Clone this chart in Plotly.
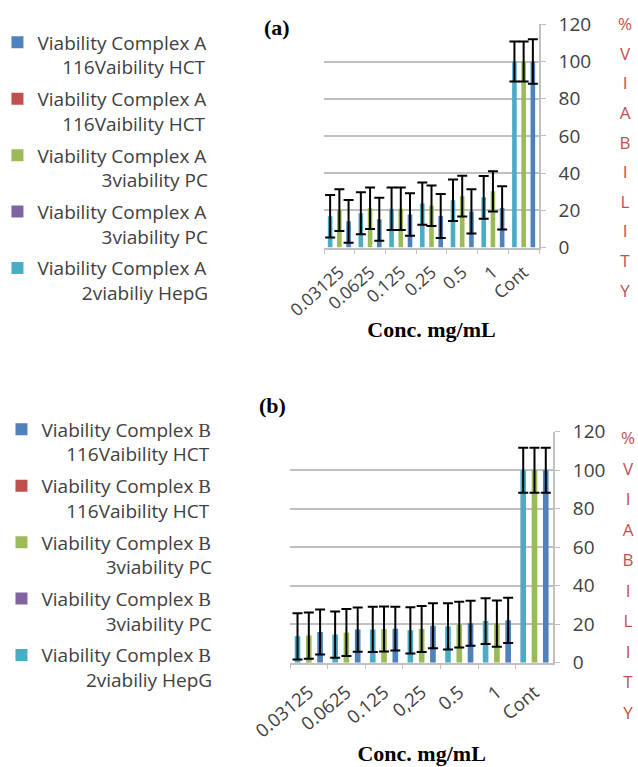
import plotly.graph_objects as go

# ---------------- data ----------------
conc_a = ["0.03125", "0.0625", "0.125", "0.25", "0.5", "1", "Cont"]
conc_b = ["0.03125", "0.0625", "0.125", "0,25", "0.5", "1", "Cont"]

# panel (a) – Complex A
a_hct = [14.1, 15.2, 17.7, 16.9, 19.4, 21.3, 100]
a_hct_err = [11.5, 11.6, 11.4, 11.8, 11.9, 11.6, 12.0]
a_pc = [20.1, 21.1, 20.8, 22.5, 27.6, 30.2, 100]
a_pc_err = [11.2, 11.2, 11.4, 10.9, 11.0, 10.8, 10.8]
a_hepg = [16.8, 18.4, 20.8, 23.6, 25.4, 27.0, 100]
a_hepg_err = [11.4, 11.3, 11.4, 11.4, 11.2, 11.5, 10.8]
a_hct_2 = [None, None, None, None, None, None, None]
a_pc_2 = [None, None, None, None, None, None, None]

# panel (b) – Complex B
b_hct = [16.0, 17.2, 17.7, 19.2, 20.5, 22.0, 100]
b_hct_err = [11.7, 11.5, 11.4, 11.7, 11.7, 11.8, 11.7]
b_pc = [14.1, 15.7, 17.5, 17.5, 19.8, 20.3, 100]
b_pc_err = [12.0, 12.2, 11.7, 11.9, 11.9, 12.0, 11.7]
b_hepg = [13.7, 14.6, 17.3, 16.8, 18.9, 21.6, 100]
b_hepg_err = [12.0, 12.0, 11.8, 12.0, 12.0, 11.9, 11.7]
b_hct_2 = [None, None, None, None, None, None, None]
b_pc_2 = [None, None, None, None, None, None, None]

line2_hct = "116Vaibility HCT"
line2_pc = "3viability PC"
line2_hepg = "2viabiliy HepG"

# ---------------- styling ----------------
BLUE, RED, GREEN, PURPLE, CYAN = "#4f81bd", "#c0504d", "#9bbb59", "#8064a2", "#4bacc6"
GRID = "#c0c0c0"
TXT = "#404040"
NB = "\u00a0"
H = 767.0
W = 638.0


def label(cpx, line2, pad):
    return f"Viability Complex {cpx}<br>{NB * pad}{line2}"


fig = go.Figure()


def add_panel(cats, suffix, legend_id, cpx, hct, hct_e, hct2, pc, pc_e, pc2, hepg, hepg_e):
    xa = "x" if suffix == "" else "x" + suffix
    ya = "y" if suffix == "" else "y" + suffix
    # slot order inside each category (left to right): cyan, purple, green, red, blue
    # legend order (top to bottom): blue, red, green, purple, cyan
    specs = [
        (hepg, hepg_e, CYAN, label(cpx, line2_hepg, 9), 5),
        (pc2, None, PURPLE, label(cpx, line2_pc, 13), 4),
        (pc, pc_e, GREEN, label(cpx, line2_pc, 13), 3),
        (hct2, None, RED, label(cpx, line2_hct, 5), 2),
        (hct, hct_e, BLUE, label(cpx, line2_hct, 5), 1),
    ]
    for i, (vals, errs, col, name, rank) in enumerate(specs):
        tr = dict(
            x=cats, y=vals, name=name, marker=dict(color=col, line=dict(width=0)),
            xaxis=xa, yaxis=ya, legend=legend_id, legendgroup=f"{legend_id}_{i}",
            legendrank=rank, offsetgroup=str(i),
        )
        if errs is not None:
            tr["error_y"] = dict(type="data", array=errs, color="black", thickness=2, width=5)
        fig.add_trace(go.Bar(**tr))


add_panel(conc_a, "", "legend", "A", a_hct, a_hct_err, a_hct_2, a_pc, a_pc_err, a_pc_2,
          a_hepg, a_hepg_err)
add_panel(conc_b, "2", "legend2", "<span style='font-family:Liberation Serif'>B</span>",
          b_hct, b_hct_err, b_hct_2, b_pc, b_pc_err, b_pc_2, b_hepg, b_hepg_err)


def xaxis_style(fsize, angle, lab_standoff, title_standoff):
    return dict(type="category", tickson="boundaries", ticks="outside", ticklen=5,
                tickcolor=GRID, showline=True, linecolor=GRID, linewidth=1.5, showgrid=False,
                tickangle=angle, ticklabelstandoff=lab_standoff,
                tickfont=dict(family="Open Sans", size=fsize, color=TXT),
                title=dict(text="<b>Conc. mg/mL</b>", standoff=title_standoff,
                           font=dict(family="Liberation Serif", size=22, color="black")))


ycommon = dict(side="right", range=[0, 120], dtick=20, tick0=0, showline=True,
               linecolor=GRID, linewidth=1.5, ticks="outside", ticklen=5, tickcolor=GRID,
               gridcolor=GRID, gridwidth=1.5, zeroline=False, ticklabelstandoff=9,
               tickfont=dict(family="Open Sans", size=19, color=TXT))

legcommon = dict(xanchor="left", yanchor="top", traceorder="grouped",
                 tracegroupgap=4, valign="top", bgcolor="rgba(0,0,0,0)",
                 font=dict(family="Open Sans", size=19, color=TXT))


def letters():
    return "<br>".join(f"<span style='font-size:17px'>{c}</span>" for c in "%VIABILITY")


fig.update_layout(
    width=638, height=767, margin=dict(l=0, r=0, t=0, b=0, autoexpand=False),
    paper_bgcolor="white", plot_bgcolor="white",
    barmode="group", bargap=0.25, bargroupgap=0,
    xaxis=dict(domain=[324 / W, 539 / W], anchor="y", **xaxis_style(17.5, -42, 6, 2)),
    yaxis=dict(domain=[1 - 247.5 / H, 1 - 24.3 / H], anchor="x", **ycommon),
    xaxis2=dict(domain=[290 / W, 553.3 / W], anchor="y2", **xaxis_style(18.5, -40, 10, 4)),
    yaxis2=dict(domain=[1 - 662.7 / H, 1 - 431.7 / H], anchor="x2", **ycommon),
    legend=dict(x=-0.004, y=1 - 23.5 / H, **legcommon),
    legend2=dict(x=0.0023, y=1 - 410.5 / H, **legcommon),
    annotations=[
        dict(text="<b>(a)</b>", x=277 / W, y=1 - 28 / H, xref="paper", yref="paper",
             xanchor="center", yanchor="middle", showarrow=False,
             font=dict(family="Liberation Serif", size=22, color="black")),
        dict(text="<b>(b)</b>", x=272 / W, y=1 - 406 / H, xref="paper", yref="paper",
             xanchor="center", yanchor="middle", showarrow=False,
             font=dict(family="Liberation Serif", size=22, color="black")),
        dict(text=letters(), x=625 / W, y=1 - 157 / H, xref="paper", yref="paper",
             xanchor="center", yanchor="middle", showarrow=False,
             font=dict(family="Open Sans", size=22.8, color=RED)),
        dict(text=letters(), x=628 / W, y=1 - 574.5 / H, xref="paper", yref="paper",
             xanchor="center", yanchor="middle", showarrow=False,
             font=dict(family="Open Sans", size=23.5, color=RED)),
    ],
)

fig.write_html("out.html")
